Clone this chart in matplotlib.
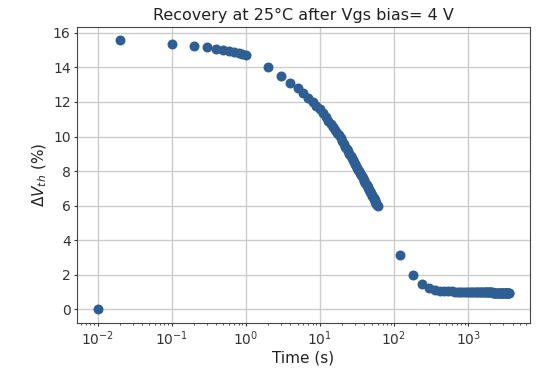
import matplotlib
matplotlib.use("Agg")
import matplotlib.pyplot as plt
from matplotlib.ticker import LogLocator, NullFormatter

# tempo de recuperação (s)
t_inicio = [0.01, 0.02, 0.1, 0.2, 0.3, 0.4, 0.5, 0.6, 0.7, 0.8, 0.9, 1.0]
dv_inicio = [0.0, 15.56, 15.35, 15.25, 15.15, 15.06, 15.01, 14.95, 14.89, 14.82, 14.76, 14.69]

t_meio = [2, 3, 4, 5, 6, 7, 8, 9, 10, 11, 12, 13, 14, 15, 16, 17, 18, 19, 20,
          21, 22, 23, 24, 25, 26, 27, 28, 29, 30, 31, 32, 33, 34, 35, 36, 37, 38, 39, 40,
          41, 42, 43, 44, 45, 46, 47, 48, 49, 50, 51, 52, 53, 54, 55, 56, 57, 58, 59, 60]
dv_meio = [14.00, 13.50, 13.11, 12.80, 12.49, 12.23, 12.00, 11.79, 11.60, 11.35,
           11.13, 10.92, 10.72, 10.54, 10.37, 10.21, 10.06, 9.90, 9.73,
           9.57, 9.42, 9.27, 9.14, 9.00, 8.87, 8.75, 8.63, 8.52, 8.40,
           8.30, 8.19, 8.09, 8.00, 7.89, 7.80, 7.70, 7.60, 7.51, 7.42,
           7.34, 7.25, 7.17, 7.09, 7.01, 6.93, 6.86, 6.78, 6.71, 6.64,
           6.57, 6.50, 6.44, 6.37, 6.31, 6.24, 6.18, 6.12, 6.06, 6.00]

t_fim = [120, 180, 240, 300, 360, 420, 480, 540, 600, 660, 720, 780, 840, 900,
         960, 1020, 1080, 1140, 1200, 1260, 1320, 1380, 1440, 1500, 1560, 1620,
         1680, 1740, 1800, 1860, 1920, 1980, 2040, 2100, 2160, 2220, 2280, 2340,
         2400, 2460, 2520, 2580, 2640, 2700, 2760, 2820, 2880, 2940, 3000, 3060,
         3120, 3180, 3240, 3300, 3360, 3420, 3480, 3540, 3600]
dv_fim = [3.14, 1.98, 1.45, 1.22, 1.13, 1.08, 1.06, 1.05, 1.04, 1.03, 1.03, 1.02,
          1.02, 1.02, 1.01, 1.01, 1.01, 1.01, 1.00, 1.00, 1.00, 1.00, 1.00, 1.00,
          0.99, 0.99, 0.99, 0.99, 0.99, 0.98, 0.98, 0.98, 0.98, 0.98, 0.97, 0.97,
          0.97, 0.97, 0.97, 0.97, 0.96, 0.96, 0.96, 0.96, 0.96, 0.96, 0.95, 0.95,
          0.95, 0.95, 0.95, 0.95, 0.95, 0.94, 0.94, 0.94, 0.94, 0.94, 0.94]

x_ticks = [1e-2, 1e-1, 1e0, 1e1, 1e2, 1e3]
y_ticks = [0, 2, 4, 6, 8, 10, 12, 14, 16]

tempo = t_inicio + t_meio + t_fim
delta_vth = dv_inicio + dv_meio + dv_fim

cor = "#2e5e92"

fig = plt.figure(figsize=(5.38, 3.69), dpi=100)
ax = fig.add_axes([0.143, 0.125, 0.842, 0.802])

ax.scatter(tempo, delta_vth, s=38, color=cor, zorder=3)
ax.set_xscale("log")

ax.set_xticks(x_ticks)
ax.xaxis.set_minor_locator(LogLocator(base=10, subs=range(2, 10)))
ax.xaxis.set_minor_formatter(NullFormatter())
ax.set_yticks(y_ticks)

ax.grid(True, which="major", color="#cccccc", linewidth=1.0)
ax.set_axisbelow(True)
for lado in ax.spines.values():
    lado.set_color("#444444")

ax.tick_params(which="major", length=2.5, pad=2, labelsize=10, colors="#333333")
ax.tick_params(which="minor", length=1.5, colors="#333333")

ax.set_title("Recovery at 25°C after Vgs bias= 4 V", fontsize=11.5, color="#222222", pad=5)
ax.set_xlabel("Time (s)", fontsize=11, color="#222222", labelpad=2)
ax.set_ylabel(r"$\Delta V_{th}$ (%)", fontsize=11, color="#222222", labelpad=3)

fig.savefig("out.png", dpi=100)
